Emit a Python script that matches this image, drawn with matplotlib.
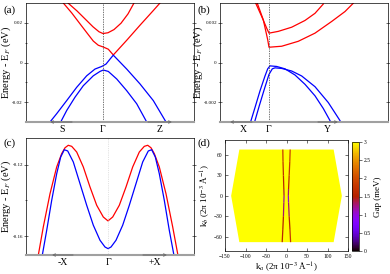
import numpy as np
import matplotlib
matplotlib.use('Agg')
import matplotlib.pyplot as plt
from matplotlib.collections import LineCollection
from matplotlib.patches import Polygon
from matplotlib.cm import ScalarMappable
from matplotlib.colors import Normalize

plt.rcParams['font.family'] = ['Liberation Serif', 'DejaVu Serif']
plt.rcParams['mathtext.fontset'] = 'stix'

# ---- panel (a): S - Gamma - Z
a_k_red1 = [-0.35, -0.26, -0.18, -0.10, -0.04, 0.0, 0.05, 0.11, 0.18, 0.25, 0.31]
a_e_red1 = [0.0300, 0.0260, 0.0220, 0.0180, 0.0155, 0.0146, 0.0150, 0.0166, 0.0198, 0.0245, 0.0300]
a_k_red2 = [-0.397, -0.313, -0.23, -0.157, -0.097, -0.047, 0.003, 0.053, 0.103, 0.237, 0.37, 0.503, 0.57]
a_e_red2 = [0.030, 0.025, 0.0195, 0.0147, 0.0108, 0.0087, 0.0078, 0.0067, 0.0038, 0.0112, 0.0188, 0.0262, 0.030]
a_k_blue1 = [-0.53, -0.463, -0.363, -0.263, -0.163, -0.08, -0.013, 0.03, 0.07, 0.103, 0.237, 0.37, 0.503, 0.63]
a_e_blue1 = [-0.030, -0.0258, -0.0192, -0.0125, -0.0067, -0.0033, -0.002, -0.0008, 0.0017, 0.0037,
             -0.0033, -0.0108, -0.0192, -0.030]
a_k_blue2 = [-0.423, -0.363, -0.28, -0.197, -0.097, -0.03, 0.003, 0.053, 0.137, 0.237, 0.337, 0.437]
a_e_blue2 = [-0.030, -0.0242, -0.0175, -0.0117, -0.0067, -0.0045, -0.0038, -0.0045, -0.0083, -0.0142,
             -0.0208, -0.030]
a_labels = ['S', 'Γ', 'Z']
a_label_k = [-0.41, 0.0, 0.57]

# ---- panel (b): X - Gamma - Y
b_k_red1 = [-0.14, -0.073, -0.023, 0.0, 0.093, 0.227, 0.36, 0.46, 0.543]
b_e_red1 = [0.00307, 0.00232, 0.00173, 0.00148, 0.00157, 0.00178, 0.00212, 0.00248, 0.00295]
b_k_red2 = [-0.123, -0.057, -0.013, 0.0, 0.127, 0.293, 0.46, 0.627, 0.76, 0.843]
b_e_red2 = [0.00307, 0.00215, 0.00115, 0.00077, 0.00082, 0.00107, 0.00148, 0.00207, 0.00257, 0.00299]
b_k_blue1 = [-0.18, -0.14, -0.09, -0.04, -0.013, 0.01, 0.077, 0.16, 0.26, 0.36, 0.46, 0.543, 0.61]
b_e_blue1 = [-0.00293, -0.00227, -0.00143, -0.00068, -0.00032, -0.00017, -0.0002, -0.00032, -0.00063,
             -0.0011, -0.00168, -0.00232, -0.00293]
b_k_blue2 = [-0.14, -0.097, -0.047, 0.0, 0.033, 0.06, 0.127, 0.227, 0.327, 0.46, 0.593, 0.71]
b_e_blue2 = [-0.00293, -0.00218, -0.00135, -0.0006, -0.00032, -0.00027, -0.0003, -0.00043, -0.00068,
             -0.00122, -0.00202, -0.00293]
b_labels = ['X', 'Γ', 'Y']
b_label_k = [-0.26, 0.0, 0.58]

# ---- panel (c): -X - Gamma - +X
c_k_red = [-0.697, -0.647, -0.58, -0.513, -0.463, -0.43, -0.397, -0.363, -0.313, -0.247, -0.18, -0.113,
           -0.047, 0.0, 0.047, 0.113, 0.18, 0.247, 0.313, 0.363, 0.397, 0.43, 0.463, 0.513, 0.58, 0.647, 0.70]
c_e_red = [-0.1708, -0.1549, -0.1362, -0.1211, -0.1136, -0.1103, -0.1089, -0.1095, -0.1127, -0.1211,
           -0.1324, -0.1427, -0.1493, -0.1515, -0.1493, -0.1427, -0.1324, -0.1211, -0.1127, -0.1095,
           -0.1089, -0.1103, -0.1136, -0.1211, -0.1362, -0.1549, -0.1710]
c_k_blue = [-0.657, -0.613, -0.563, -0.513, -0.473, -0.437, -0.403, -0.347, -0.28, -0.213, -0.147, -0.08,
            -0.03, 0.0, 0.03, 0.08, 0.147, 0.213, 0.28, 0.347, 0.403, 0.437, 0.473, 0.513, 0.563, 0.613, 0.66]
c_e_blue = [-0.1708, -0.1568, -0.1399, -0.1249, -0.1155, -0.1114, -0.1121, -0.1183, -0.1305, -0.1427,
            -0.1539, -0.1624, -0.1662, -0.1671, -0.1662, -0.1624, -0.1539, -0.1427, -0.1305, -0.1183,
            -0.1121, -0.1114, -0.1155, -0.1249, -0.1399, -0.1568, -0.1710]
c_labels = ['-X', 'Γ', '+X']
c_label_k = [-0.45, 0.0, 0.47]

# ---- panel (d): gap map over the Brillouin zone
bz_kx = [-115, 115, 135, 115, -115, -135]
bz_ky = [68, 68, 0, -68, -68, 0]
bz_gap = 3.0
d_ky = [68, 50, 30, 10, 0, -10, -30, -50, -68]
d_kx_left = [-9, -8.5, -7.5, -6.5, -6, -6.5, -7.5, -9, -10.5]
d_kx_right = [9, 8, 6.5, 5, 4.5, 5, 6.5, 8.5, 10]
d_gap_left = [1.8, 1.7, 1.6, 1.4, 1.2, 1.3, 1.5, 1.6, 1.7]
d_gap_right = [1.9, 1.8, 1.6, 1.3, 1.1, 1.3, 1.6, 1.8, 1.9]

W, H = 390, 274
fig = plt.figure(figsize=(W / 100, H / 100), dpi=100)


def frame(l, r, b, t):
    return fig.add_axes([l / W, 1 - b / H, (r - l) / W, (b - t) / H])


def band_axes(ax, xlim, ylim, labels, label_k, arrows, label_x):
    ax.set_xlim(xlim)
    ax.set_ylim(ylim)
    ax.set_xticks(label_k)
    ax.set_xticklabels(labels, fontsize=7)
    ax.tick_params(axis='x', length=0, pad=2)
    ax.tick_params(axis='y', labelsize=3.6, length=2.5, width=0.4, direction='inout', right=True, pad=1)
    ax.tick_params(axis='y', which='minor', length=2, width=0.4, direction='inout', right=True)
    ax.set_ylabel('Energy - E$_F$ (eV)', fontsize=7.5)
    ax.yaxis.set_label_coords(label_x, 0.5)
    for s in ['left', 'right', 'top']:
        ax.spines[s].set_linewidth(0.5)
    ax.spines['bottom'].set_color('#a0a0a0')
    ax.spines['bottom'].set_linewidth(1.5)
    for x0, x1 in arrows:
        ax.annotate('', xy=(x1, ylim[0]), xytext=(x0, ylim[0]), xycoords='data',
                    arrowprops=dict(arrowstyle='->', color='#707070', lw=0.8, shrinkA=0, shrinkB=0,
                                    mutation_scale=4),
                    annotation_clip=False)


# (a)
ax = frame(26, 194, 122, 3)
ax.plot(a_k_red1, a_e_red1, color='red', lw=0.9)
ax.plot(a_k_red2, a_e_red2, color='red', lw=0.9)
ax.plot(a_k_blue1, a_e_blue1, color='blue', lw=0.9)
ax.plot(a_k_blue2, a_e_blue2, color='blue', lw=0.9)
ax.axvline(0, color='#404040', ls=(0, (2, 1.5)), lw=0.5)
band_axes(ax, (-0.77, 0.91), (-0.03, 0.03), a_labels, a_label_k, [(-0.31, -0.53), (0.45, 0.69)], -0.076)
ax.set_yticks([-0.02, 0, 0.02])
ax.set_yticklabels(['-0.02', '0', '0.02'])
ax.set_yticks([-0.01, 0.01], minor=True)
fig.text(3 / W, 1 - 10 / H, '(a)', fontsize=8, va='center')

# (b)
ax = frame(220, 388, 122, 3)
ax.plot(b_k_red1, b_e_red1, color='red', lw=0.9)
ax.plot(b_k_red2, b_e_red2, color='red', lw=0.9)
ax.plot(b_k_blue1, b_e_blue1, color='blue', lw=0.9)
ax.plot(b_k_blue2, b_e_blue2, color='blue', lw=0.9)
ax.axvline(0, color='#404040', ls=(0, (2, 1.5)), lw=0.5)
band_axes(ax, (-0.49, 1.19), (-0.003, 0.003), b_labels, b_label_k, [(-0.17, -0.39), (0.49, 0.69)], -0.09)
ax.set_yticks([-0.002, 0, 0.002])
ax.set_yticklabels(['-0.002', '0', '0.002'])
ax.set_yticks([-0.001, 0.001], minor=True)
fig.text(197 / W, 1 - 10 / H, '(b)', fontsize=8, va='center')

# (c)
ax = frame(26, 194, 255, 138)
ax.plot(c_k_red, c_e_red, color='red', lw=0.9)
ax.plot(c_k_blue, c_e_blue, color='blue', lw=0.9)
ax.axvline(0, color='#c8c8c8', ls=':', lw=0.5)
band_axes(ax, (-0.82, 0.86), (-0.1707, -0.1048), c_labels, c_label_k, [(-0.35, -0.56), (0.35, 0.59)], -0.076)
ax.set_yticks([-0.16, -0.12])
ax.set_yticklabels(['-0.16', '-0.12'])
ax.set_yticks([-0.14], minor=True)
fig.text(3 / W, 1 - 143 / H, '(c)', fontsize=8, va='center')

# (d)
cmap = plt.get_cmap('gnuplot')
norm = Normalize(0, 3)
ax = frame(225, 348, 251, 140)
ax.add_patch(Polygon(np.column_stack([bz_kx, bz_ky]), closed=True, facecolor=cmap(norm(bz_gap)),
                     edgecolor='none'))
for kx, gap in [(d_kx_left, d_gap_left), (d_kx_right, d_gap_right)]:
    pts = np.column_stack([kx, d_ky]).reshape(-1, 1, 2)
    segs = np.concatenate([pts[:-1], pts[1:]], axis=1)
    lc = LineCollection(segs, cmap=cmap, norm=norm, lw=0.9)
    lc.set_array(np.array(gap[:-1]))
    ax.add_collection(lc)
ax.set_xlim(-150, 150)
ax.set_ylim(-81, 82)
ax.set_xticks([-150, -100, -50, 0, 50, 100, 150])
ax.set_yticks([-60, -30, 0, 30, 60])
ax.tick_params(labelsize=4, length=2, width=0.4, direction='in', top=True, right=True, pad=2)
for s in ax.spines.values():
    s.set_linewidth(0.5)
ax.set_xlabel('k$_a$ (2π 10$^{-3}$ Å$^{-1}$)', fontsize=6.5, labelpad=1)
ax.set_ylabel('k$_b$ (2π 10$^{-3}$ Å$^{-1}$)', fontsize=6.5, labelpad=1)
cax = frame(352, 359, 251, 142)
cb = fig.colorbar(ScalarMappable(norm=norm, cmap=cmap), cax=cax)
cb.set_ticks([0, 0.5, 1, 1.5, 2, 2.5, 3])
cb.set_ticklabels(['0', '0.5', '1', '1.5', '2', '2.5', '3'])
cb.ax.tick_params(labelsize=4, length=2, width=0.4, pad=1.5)
cb.outline.set_linewidth(0.5)
cb.set_label('Gap (meV)', fontsize=6.5, labelpad=2)
fig.text(197 / W, 1 - 143 / H, '(d)', fontsize=8, va='center')

fig.savefig('out.png', dpi=100)
